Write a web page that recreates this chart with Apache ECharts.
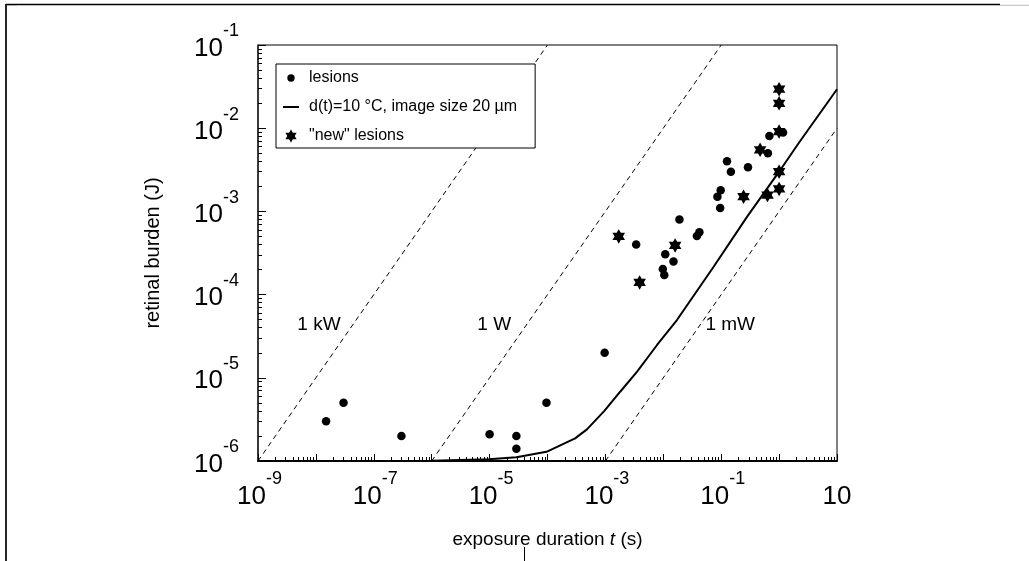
<!DOCTYPE html>
<html>
<head>
<meta charset="utf-8">
<script src="https://cdn.jsdelivr.net/npm/echarts@6/dist/echarts.min.js"></script>
<style>
  html, body { margin: 0; padding: 0; background: #fff; }
  #chart { width: 1029px; height: 561px; }
</style>
</head>
<body>
<div id="chart"></div>
<script>
// ---------- data ----------
const lesionT = [1.5e-8, 3.0e-8, 3.0e-7, 1.0e-5, 2.9e-5, 2.9e-5, 9.6e-5, 9.7e-4,
  3.4e-3, 1.08e-2, 1.5e-2, 9.8e-3, 1.04e-2, 1.9e-2, 3.8e-2, 4.2e-2,
  9.6e-2, 8.6e-2, 9.8e-2, 0.126, 0.147, 0.29, 0.64, 0.68, 1.17];
const lesionE = [3.0e-6, 5.0e-6, 2.0e-6, 2.1e-6, 2.0e-6, 1.4e-6, 5.0e-6, 2.0e-5,
  4.0e-4, 3.05e-4, 2.5e-4, 2.03e-4, 1.72e-4, 8.0e-4, 5.06e-4, 5.6e-4,
  1.1e-3, 1.5e-3, 1.8e-3, 4.0e-3, 3.0e-3, 3.4e-3, 5.0e-3, 8.05e-3, 8.9e-3];

const newT = [1.7e-3, 3.9e-3, 1.6e-2, 0.243, 0.47, 0.63, 1, 1, 1, 1, 1];
const newE = [5.0e-4, 1.4e-4, 3.9e-4, 1.5e-3, 5.5e-3, 1.57e-3, 2.94e-2, 1.99e-2, 9.1e-3, 3.0e-3, 1.86e-3];

const curveT = [1e-9, 1e-7, 1e-6, 9.7e-6, 2.9e-5, 9.6e-5, 3.0e-4, 4.8e-4, 9.6e-4,
  1.8e-3, 3.5e-3, 7.8e-3, 1.72e-2, 7.4e-2, 0.279, 1.05, 2.17, 10];
const curveE = [1e-6, 1e-6, 1.01e-6, 1.05e-6, 1.11e-6, 1.29e-6, 1.87e-6, 2.4e-6, 4.0e-6,
  6.8e-6, 1.18e-5, 2.48e-5, 4.95e-5, 2.16e-4, 8.6e-4, 3.15e-3, 6.6e-3, 2.94e-2];

// constant-power reference lines (endpoints)
const kwT = [1e-9, 1e-4];  const kwE = [1e-6, 1e-1];
const wT  = [1e-6, 1e-1];  const wE  = [1e-6, 1e-1];
const mwT = [1e-3, 10];    const mwE = [1e-6, 1e-2];

const powerNames = ['1 kW', '1 W', '1 mW'];
const powerLabelT = [1.13e-8, 1.2e-5, 0.143];
const powerLabelE = [4.3e-5, 4.3e-5, 4.3e-5];

const seriesNames = ['lesions', 'd(t)=10 °C, image size 20 µm', '"new" lesions'];

// axis ticks / labels
const xDecadeExps = [-9, -8, -7, -6, -5, -4, -3, -2, -1, 0, 1];
const xLabelExps = [-9, -7, -5, -3, -1, 1];
const yDecadeExps = [-6, -5, -4, -3, -2, -1];
const yLabelExps = [-6, -5, -4, -3, -2, -1];
const minorMultipliers = [2, 3, 4, 5, 6, 7, 8, 9];

// ---------- helpers ----------
const FONT = '"Liberation Sans", Arial, Helvetica, sans-serif';
const pow10 = e => Math.pow(10, e);
const zip = (a, b) => a.map((v, i) => [v, b[i]]);
function minors(exps) {
  const out = [];
  for (let i = 0; i < exps.length - 1; i++) {
    minorMultipliers.forEach(m => out.push(m * pow10(exps[i])));
  }
  return out;
}
function powLabel(v) {
  const e = Math.round(Math.log10(v));
  if (e === 1) return '{c|10}';
  return '{b|10}{s|' + e + '}';
}
const richLabel = {
  b: { fontSize: 26, fontFamily: FONT, color: '#000', padding: [13, 0, 0, 3] },
  c: { fontSize: 26, fontFamily: FONT, color: '#000', padding: [13, 0, 0, 0] },
  s: { fontSize: 18, fontFamily: FONT, color: '#000', verticalAlign: 'top' }
};
const richLabelY = {
  b: { fontSize: 26, fontFamily: FONT, color: '#000', padding: [13, 0, 0, 0] },
  c: { fontSize: 26, fontFamily: FONT, color: '#000', padding: [13, 0, 0, 0] },
  s: { fontSize: 18, fontFamily: FONT, color: '#000', verticalAlign: 'top' }
};

// hexagram symbol paths
const starPath = 'path://M7,0L9.02,3.5L13.06,3.5L11.04,7L13.06,10.5L9.02,10.5L7,14L4.98,10.5L0.94,10.5L2.96,7L0.94,3.5L4.98,3.5Z';
const starLegend = 'path://M0,0M16,14M8,0.5L9.88,3.75L13.63,3.75L11.75,7L13.63,10.25L9.88,10.25L8,13.5L6.12,10.25L2.37,10.25L4.25,7L2.37,3.75L6.12,3.75Z';
const dotLegend = 'path://M0,0M16,14M4.3,7A3.7,3.7 0 1,0 11.7,7A3.7,3.7 0 1,0 4.3,7Z';
const lineLegend = 'path://M0,0M16,14M0,6L16,6L16,8L0,8Z';

const GRID = { left: 258, top: 45, width: 579, height: 416 };

const chart = echarts.init(document.getElementById('chart'), null, { renderer: 'canvas' });

const option = {
  animation: false,
  backgroundColor: '#fff',
  textStyle: { fontFamily: FONT },
  grid: Object.assign({ show: true, borderColor: '#000', borderWidth: 1, backgroundColor: 'transparent', containLabel: false }, GRID),
  legend: {
    orient: 'vertical',
    left: 276, top: 64,
    padding: [6, 18, 4, 7],
    itemGap: 13,
    itemWidth: 16, itemHeight: 14,
    borderColor: '#000', borderWidth: 1,
    backgroundColor: '#fff',
    selectedMode: false,
    textStyle: { fontSize: 16, color: '#000', fontFamily: FONT, padding: [0, 0, 0, 5] },
    data: [
      { name: seriesNames[0], icon: dotLegend, itemStyle: { color: '#000', opacity: 1 } },
      { name: seriesNames[1], icon: lineLegend, itemStyle: { color: '#000', opacity: 1 } },
      { name: seriesNames[2], icon: starLegend, itemStyle: { color: '#000', opacity: 1 } }
    ]
  },
  xAxis: [
    {
      type: 'log', logBase: 10, position: 'bottom',
      min: pow10(xDecadeExps[0]), max: pow10(xDecadeExps[xDecadeExps.length - 1]),
      axisLine: { show: true, lineStyle: { color: '#000', width: 2 } },
      axisTick: { show: true, inside: true, length: 4, customValues: minors(xDecadeExps), lineStyle: { color: '#000', width: 1 } },
      minorTick: { show: false },
      splitLine: { show: false },
      axisLabel: {
        show: true, margin: 9.5, customValues: xLabelExps.map(pow10),
        formatter: powLabel, rich: richLabel, hideOverlap: false
      },
      name: 'exposure duration {i|t} (s)',
      nameLocation: 'middle', nameGap: 69,
      nameTextStyle: { fontSize: 19, color: '#000', fontFamily: FONT,
        rich: { i: { fontSize: 19, fontStyle: 'italic', color: '#000', fontFamily: FONT } } }
    },
    {
      type: 'log', logBase: 10, position: 'bottom', gridIndex: 0,
      min: pow10(xDecadeExps[0]), max: pow10(xDecadeExps[xDecadeExps.length - 1]),
      axisLine: { show: false },
      axisTick: { show: true, inside: true, length: 7, customValues: xDecadeExps.map(pow10), lineStyle: { color: '#000', width: 1 } },
      minorTick: { show: false },
      splitLine: { show: false },
      axisLabel: { show: false }
    }
  ],
  yAxis: [
    {
      type: 'log', logBase: 10, position: 'left',
      min: pow10(yDecadeExps[0]), max: pow10(yDecadeExps[yDecadeExps.length - 1]),
      axisLine: { show: true, lineStyle: { color: '#222', width: 1.5 } },
      axisTick: { show: true, inside: true, length: 4, customValues: minors(yDecadeExps), lineStyle: { color: '#000', width: 1 } },
      minorTick: { show: false },
      splitLine: { show: false },
      axisLabel: {
        show: true, margin: 19, customValues: yLabelExps.map(pow10),
        formatter: powLabel, rich: richLabelY, padding: [0, 0, 6, 0], hideOverlap: false
      },
      name: 'retinal burden (J)',
      nameLocation: 'middle', nameGap: 95,
      nameTextStyle: { fontSize: 20, color: '#000', fontFamily: FONT }
    },
    {
      type: 'log', logBase: 10, position: 'left', gridIndex: 0,
      min: pow10(yDecadeExps[0]), max: pow10(yDecadeExps[yDecadeExps.length - 1]),
      axisLine: { show: false },
      axisTick: { show: true, inside: true, length: 8, customValues: yDecadeExps.map(pow10), lineStyle: { color: '#000', width: 1 } },
      minorTick: { show: false },
      splitLine: { show: false },
      axisLabel: { show: false }
    }
  ],
  series: [
    { name: '1 kW line', type: 'line', data: zip(kwT, kwE), symbol: 'none', silent: true, z: 1,
      lineStyle: { color: '#000', width: 1, type: [5, 4] } },
    { name: '1 W line', type: 'line', data: zip(wT, wE), symbol: 'none', silent: true, z: 1,
      lineStyle: { color: '#000', width: 1, type: [5, 4] } },
    { name: '1 mW line', type: 'line', data: zip(mwT, mwE), symbol: 'none', silent: true, z: 1,
      lineStyle: { color: '#000', width: 1, type: [5, 4] } },
    { name: seriesNames[1], type: 'line', data: zip(curveT, curveE), symbol: 'none', z: 2,
      itemStyle: { color: '#000' }, lineStyle: { color: '#000', width: 2 } },
    { name: seriesNames[0], type: 'scatter', data: zip(lesionT, lesionE), symbol: 'circle', symbolSize: 8.5, z: 3,
      itemStyle: { color: '#000', opacity: 1 } },
    { name: seriesNames[2], type: 'scatter', data: zip(newT, newE), symbol: starPath, symbolSize: 14.5,
      symbolKeepAspect: true, z: 4, itemStyle: { color: '#000', opacity: 1 } },
    { name: 'power labels', type: 'scatter', silent: true, symbolSize: 0.1, z: 5,
      data: powerNames.map((n, i) => ({ name: n, value: [powerLabelT[i], powerLabelE[i]] })),
      itemStyle: { color: 'rgba(0,0,0,0)', opacity: 1 },
      label: { show: true, position: 'inside', formatter: '{b}', fontSize: 19, color: '#000', opacity: 1, fontFamily: FONT } }
  ],
  graphic: [
    { type: 'line', shape: { x1: 6, y1: 4.5, x2: 1000, y2: 4.5 }, style: { stroke: '#000', lineWidth: 1.5 }, silent: true },
    { type: 'line', shape: { x1: 1000, y1: 5.3, x2: 1029, y2: 5.3 }, style: { stroke: '#bbb', lineWidth: 1 }, silent: true },
    { type: 'line', shape: { x1: 7, y1: 5.5, x2: 17, y2: 5.5 }, style: { stroke: '#aaa', lineWidth: 1 }, silent: true },
    { type: 'line', shape: { x1: 6, y1: 4, x2: 6, y2: 561 }, style: { stroke: '#000', lineWidth: 1.7 }, silent: true },
    { type: 'line', shape: { x1: 524.5, y1: 547, x2: 524.5, y2: 561 }, style: { stroke: '#000', lineWidth: 1 }, silent: true }
  ]
};
chart.setOption(option);
</script>
</body>
</html>
